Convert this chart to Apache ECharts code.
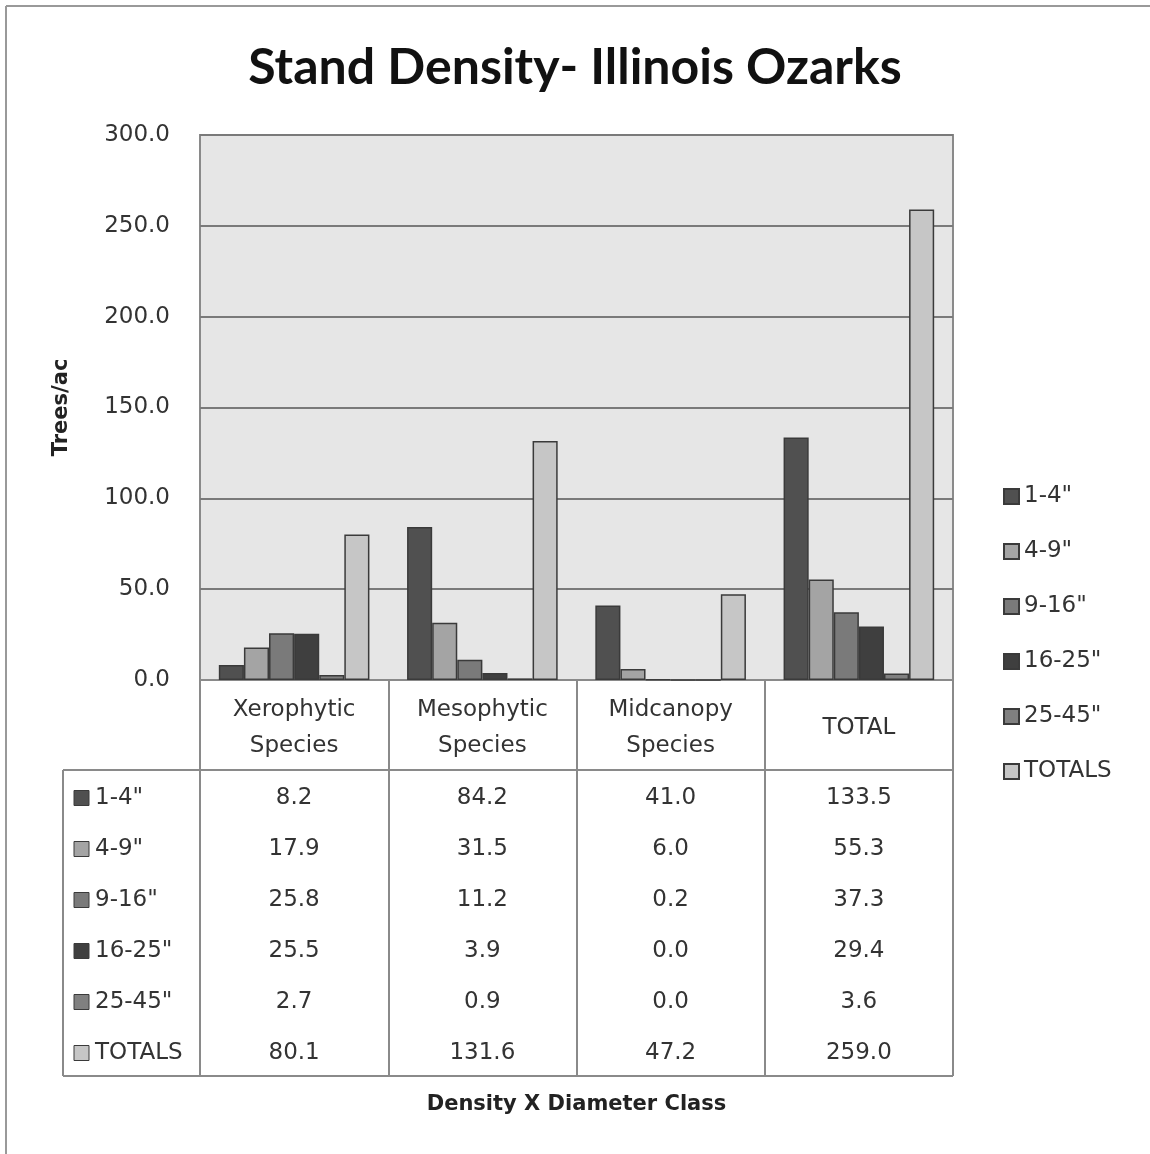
<!DOCTYPE html>
<html>
<head>
<meta charset="utf-8">
<script src="https://cdn.jsdelivr.net/npm/echarts@6/dist/echarts.min.js"></script>
<style>
  html, body { margin: 0; padding: 0; background: #fff; }
  #chart { width: 1150px; height: 1154px; }
</style>
</head>
<body>
<div id="chart"></div>
<script>
// Stand density by diameter class, Illinois Ozarks (trees per acre)
const categories = ['Xerophytic\nSpecies', 'Mesophytic\nSpecies', 'Midcanopy\nSpecies', 'TOTAL'];
const seriesNames = ['1-4"', '4-9"', '9-16"', '16-25"', '25-45"', 'TOTALS'];
const d1to4 = [8.2, 84.2, 41.0, 133.5];
const d4to9 = [17.9, 31.5, 6.0, 55.3];
const d9to16 = [25.8, 11.2, 0.2, 37.3];
const d16to25 = [25.5, 3.9, 0.0, 29.4];
const d25to45 = [2.7, 0.9, 0.0, 3.6];
const totals = [80.1, 131.6, 47.2, 259.0];
const yTicks = [0, 50, 100, 150, 200, 250, 300];

const seriesData = [d1to4, d4to9, d9to16, d16to25, d25to45, totals];
const colors = ['#505050', '#a4a4a4', '#7a7a7a', '#3f3f3f', '#808080', '#c6c6c6'];
const TITLE_FONT = 'Lato, "Open Sans", sans-serif';
const FONT = '"DejaVu Sans", Verdana, sans-serif';

const chart = echarts.init(document.getElementById('chart'));

// single-line category labels sit in the middle of the two-line header row
const axisCategories = categories.map(c => c.indexOf('\n') >= 0
  ? c
  : { value: c, textStyle: { padding: [18, 0, 0, 0] } });

const option = {
  animation: false,
  backgroundColor: '#ffffff',
  title: {
    text: 'Stand Density- Illinois Ozarks',
    left: 'center',
    top: 38,
    textStyle: { fontFamily: TITLE_FONT, fontSize: 50, fontWeight: 'bold', color: '#111' }
  },
  legend: {
    orient: 'vertical',
    left: 998,
    top: 480,
    itemWidth: 15,
    itemHeight: 15,
    itemGap: 32,
    icon: 'rect',
    textStyle: { fontFamily: FONT, fontSize: 23, color: '#333' },
    data: seriesNames
  },
  grid: {
    left: 200, top: 135, right: 197, bottom: 474,
    show: true,
    backgroundColor: '#e6e6e6',
    borderColor: '#8a8a8a',
    borderWidth: 2
  },
  xAxis: {
    type: 'category',
    data: axisCategories,
    name: 'Density X Diameter Class',
    nameLocation: 'middle',
    nameGap: 414,
    nameTextStyle: { fontFamily: FONT, fontSize: 21, fontWeight: 'bold', color: '#222' },
    axisLine: { show: true, lineStyle: { color: '#8a8a8a', width: 2 } },
    axisTick: { show: true, length: 396, lineStyle: { color: '#8a8a8a', width: 2 } },
    axisLabel: {
      margin: 12,
      fontFamily: FONT, fontSize: 23, color: '#333', lineHeight: 36
    }
  },
  yAxis: {
    type: 'value',
    min: yTicks[0],
    max: yTicks[yTicks.length - 1],
    interval: yTicks[1] - yTicks[0],
    name: 'Trees/ac',
    nameLocation: 'middle',
    nameGap: 128,
    nameRotate: 90,
    nameTextStyle: { fontFamily: FONT, fontSize: 21, fontWeight: 'bold', color: '#222' },
    axisLine: { show: false },
    axisTick: { show: false },
    axisLabel: {
      margin: 30,
      fontFamily: FONT, fontSize: 23, color: '#333',
      formatter: v => v.toFixed(1)
    },
    splitLine: { show: true, lineStyle: { color: '#7a7a7a', width: 2 } }
  },
  series: seriesNames.map((name, i) => ({
    name,
    type: 'bar',
    data: seriesData[i],
    barGap: '0%',
    barCategoryGap: '20%',
    itemStyle: { color: colors[i], borderColor: '#3a3a3a', borderWidth: 1.5 }
  }))
};

chart.setOption(option);

// Data table drawn under the plot, aligned to the category axis
const plotBottom = chart.convertToPixel({ yAxisIndex: 0 }, 0);
const tableTop = plotBottom + 90;
const rowH = 51;
const tableBottom = tableTop + rowH * seriesNames.length;
const tableLeft = 63;
const plotRight = 953;
const lineStyle = { stroke: '#8a8a8a', lineWidth: 2 };

const graphics = [
  // chart frame
  { type: 'line', shape: { x1: 6, y1: 6, x2: 1150, y2: 6 }, style: { stroke: '#999', lineWidth: 2 } },
  { type: 'line', shape: { x1: 6, y1: 6, x2: 6, y2: 1154 }, style: { stroke: '#999', lineWidth: 2 } },
  // table rules
  { type: 'line', shape: { x1: tableLeft, y1: tableTop, x2: plotRight, y2: tableTop }, style: lineStyle },
  { type: 'line', shape: { x1: tableLeft, y1: tableBottom, x2: plotRight, y2: tableBottom }, style: lineStyle },
  { type: 'line', shape: { x1: tableLeft, y1: tableTop, x2: tableLeft, y2: tableBottom }, style: lineStyle }
];

seriesNames.forEach((name, r) => {
  const cy = tableTop + rowH * r + rowH / 2 + 3;
  graphics.push({
    type: 'rect',
    shape: { x: 74, y: cy - 8, width: 15, height: 15 },
    style: { fill: colors[r], stroke: '#3a3a3a', lineWidth: 1 }
  });
  graphics.push({
    type: 'text',
    style: {
      x: 95, y: cy, text: name, textVerticalAlign: 'middle', verticalAlign: 'middle',
      font: '23px ' + FONT, fill: '#333'
    }
  });
  seriesData[r].forEach((v, c) => {
    const cx = chart.convertToPixel({ xAxisIndex: 0 }, c);
    graphics.push({
      type: 'text',
      style: {
        x: cx, y: cy, text: v.toFixed(1), align: 'center', textAlign: 'center',
        verticalAlign: 'middle', textVerticalAlign: 'middle',
        font: '23px ' + FONT, fill: '#333'
      }
    });
  });
});

chart.setOption({ graphic: graphics });
</script>
</body>
</html>
